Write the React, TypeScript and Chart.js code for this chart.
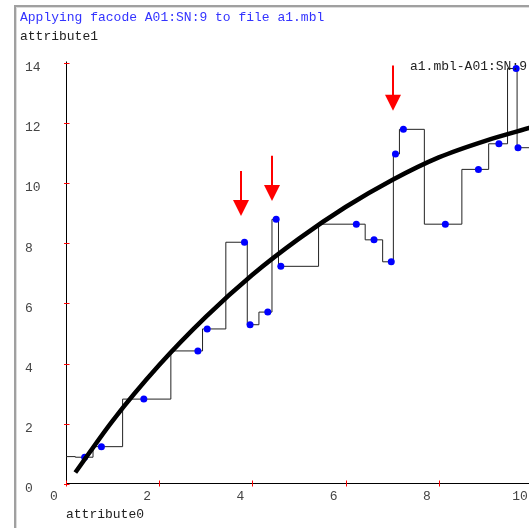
import React, { useEffect, useRef } from 'react';
import { Chart, registerables } from 'chart.js';

Chart.register(...registerables);

const TITLE = 'Applying facode A01:SN:9 to file a1.mbl';
const X_LABEL = 'attribute0';
const Y_LABEL = 'attribute1';
const SERIES_NAME = 'a1.mbl-A01:SN:9';

const X_MIN = 0;
const X_MAX = 10;
const Y_MIN = 0;
const Y_MAX = 14;
const X_STEP = 2;
const Y_STEP = 2;

// observed points (blue dots)
const pointX = [0.40, 0.76, 1.67, 2.83, 3.03, 3.83, 3.95, 4.33, 4.51, 4.61, 6.23, 6.61, 6.98, 7.07, 7.24, 8.14, 8.85, 9.29, 9.66, 9.70];
const pointY = [0.89, 1.24, 2.82, 4.42, 5.15, 8.03, 5.29, 5.71, 8.79, 7.23, 8.63, 8.11, 7.38, 10.96, 11.78, 8.63, 10.45, 11.30, 13.80, 11.17];

// step trace begins at the axis and runs past the last point
const stepStartX = 0;
const stepStartY = 0.91;
const stepEndX = 10.6;
const stepEndY = 11.17;

// fitted curve (thick black)
const fitX = [0.2, 1, 2, 3, 4, 5, 6, 7, 8, 9, 10];
const fitY = [0.38, 2.1, 3.95, 5.55, 6.95, 8.15, 9.2, 10.1, 10.85, 11.4, 11.85];

// red marker arrows (tip and tail in data units)
const arrowX = [3.76, 4.41, 7.02];
const arrowTipY = [8.9, 9.4, 12.4];
const arrowTailY = [10.4, 10.9, 13.9];

const MONO = '"Liberation Mono", "DejaVu Sans Mono", monospace';

export default function App() {
  const ref = useRef<HTMLCanvasElement | null>(null);

  useEffect(() => {
    const canvas = ref.current;
    if (!canvas) return;

    const points = pointX.map((x, i) => ({ x, y: pointY[i] }));
    const steps = [{ x: stepStartX, y: stepStartY }, ...points, { x: stepEndX, y: stepEndY }];
    const fit = fitX.map((x, i) => ({ x, y: fitY[i] }));

    const decor = {
      id: 'decor',
      beforeDatasetsDraw(chart: any) {
        const ctx = chart.ctx;
        const xs = chart.scales.x;
        const ys = chart.scales.y;
        ctx.save();
        // window frame
        ctx.fillStyle = '#a0a0a0';
        ctx.fillRect(14, 5, chart.width, 2);
        ctx.fillRect(14, 5, 2, chart.height);
        ctx.fillStyle = '#dcdcdc';
        ctx.fillRect(16, 7, chart.width, 1);
        ctx.fillRect(16, 7, 1, chart.height);

        // texts
        ctx.font = '13px ' + MONO;
        ctx.textBaseline = 'middle';
        ctx.textAlign = 'left';
        ctx.fillStyle = '#3333ff';
        ctx.fillText(TITLE, 20, 18);
        ctx.fillStyle = '#222';
        ctx.fillText(Y_LABEL, 20, 37);
        ctx.fillText(X_LABEL, 66, 515);

        // axes
        const x0 = Math.round(xs.getPixelForValue(X_MIN)) + 0.5;
        const y0 = Math.round(ys.getPixelForValue(Y_MIN)) - 0.5;
        const yTop = ys.getPixelForValue(Y_MAX);
        ctx.strokeStyle = '#000';
        ctx.lineWidth = 1;
        ctx.beginPath();
        ctx.moveTo(x0, yTop - 1);
        ctx.lineTo(x0, y0);
        ctx.lineTo(chart.width, y0);
        ctx.stroke();

        // red tick marks crossing the axes
        ctx.strokeStyle = '#ff0000';
        ctx.beginPath();
        for (let v = Y_MIN; v <= Y_MAX; v += Y_STEP) {
          const py = Math.round(ys.getPixelForValue(v)) + 0.5;
          ctx.moveTo(x0 - 2.5, py);
          ctx.lineTo(x0 + 3, py);
        }
        for (let v = X_MIN; v <= X_MAX; v += X_STEP) {
          const px = Math.round(xs.getPixelForValue(v)) + 0.5;
          ctx.moveTo(px, y0 - 3);
          ctx.lineTo(px, y0 + 3);
        }
        ctx.stroke();
        ctx.restore();
      },
      afterDatasetsDraw(chart: any) {
        const ctx = chart.ctx;
        const xs = chart.scales.x;
        const ys = chart.scales.y;
        ctx.save();
        ctx.font = '13px ' + MONO;
        ctx.textBaseline = 'middle';
        ctx.textAlign = 'left';
        ctx.fillStyle = '#222';
        ctx.fillText(SERIES_NAME, 410, 67);

        ctx.fillStyle = '#ff0000';
        ctx.strokeStyle = '#ff0000';
        ctx.lineWidth = 2;
        arrowX.forEach((ax, i) => {
          const px = Math.round(xs.getPixelForValue(ax));
          const tip = ys.getPixelForValue(arrowTipY[i]);
          const tail = ys.getPixelForValue(arrowTailY[i]);
          const headLen = 16;
          ctx.beginPath();
          ctx.moveTo(px, tail);
          ctx.lineTo(px, tip - headLen + 1);
          ctx.stroke();
          ctx.beginPath();
          ctx.moveTo(px - 8, tip - headLen);
          ctx.lineTo(px + 8, tip - headLen);
          ctx.lineTo(px, tip);
          ctx.closePath();
          ctx.fill();
        });
        ctx.restore();
      },
    };

    const chart = new Chart(canvas, {
      type: 'line',
      data: {
        datasets: [
          {
            label: 'fit',
            data: fit,
            borderColor: '#000',
            borderWidth: 4.5,
            pointRadius: 0,
            cubicInterpolationMode: 'monotone',
            fill: false,
          },
          {
            label: SERIES_NAME,
            data: points,
            showLine: false,
            pointRadius: 3.5,
            pointBackgroundColor: '#0000ff',
            pointBorderWidth: 0,
            pointBorderColor: '#0000ff',
          },
          {
            label: 'trace',
            data: steps,
            stepped: 'middle',
            borderColor: '#222',
            borderWidth: 1,
            pointRadius: 0,
            fill: false,
          },
        ],
      },
      options: {
        animation: false,
        responsive: false,
        devicePixelRatio: 1,
        events: [],
        layout: { padding: { left: 25, top: 62.5, right: 28, bottom: 0 } },
        plugins: {
          legend: { display: false },
          title: { display: false },
          tooltip: { enabled: false },
        },
        scales: {
          x: {
            type: 'linear',
            position: 'bottom',
            min: X_MIN,
            max: X_MAX,
            grid: { display: false, drawTicks: false },
            border: { display: false },
            ticks: {
              stepSize: X_STEP,
              labelOffset: -12,
              padding: 5,
              color: '#444',
              font: { family: MONO, size: 13 },
              maxRotation: 0,
            },
            afterFit: (s: any) => { s.height = 44; },
          },
          y: {
            type: 'linear',
            min: Y_MIN,
            max: Y_MAX,
            grid: { display: false, drawTicks: false },
            border: { display: false },
            ticks: {
              stepSize: Y_STEP,
              labelOffset: 5,
              crossAlign: 'far',
              color: '#444',
              font: { family: MONO, size: 13 },
            },
            afterFit: (s: any) => { s.width = 41; },
          },
        },
      },
      plugins: [decor],
    } as any);

    return () => chart.destroy();
  }, []);

  return (
    <div style={{ position: 'fixed', left: 0, top: 0, width: 529, height: 528, overflow: 'hidden', background: '#fff' }}>
      <canvas ref={ref} width={560} height={528} style={{ display: 'block' }} />
    </div>
  );
}
